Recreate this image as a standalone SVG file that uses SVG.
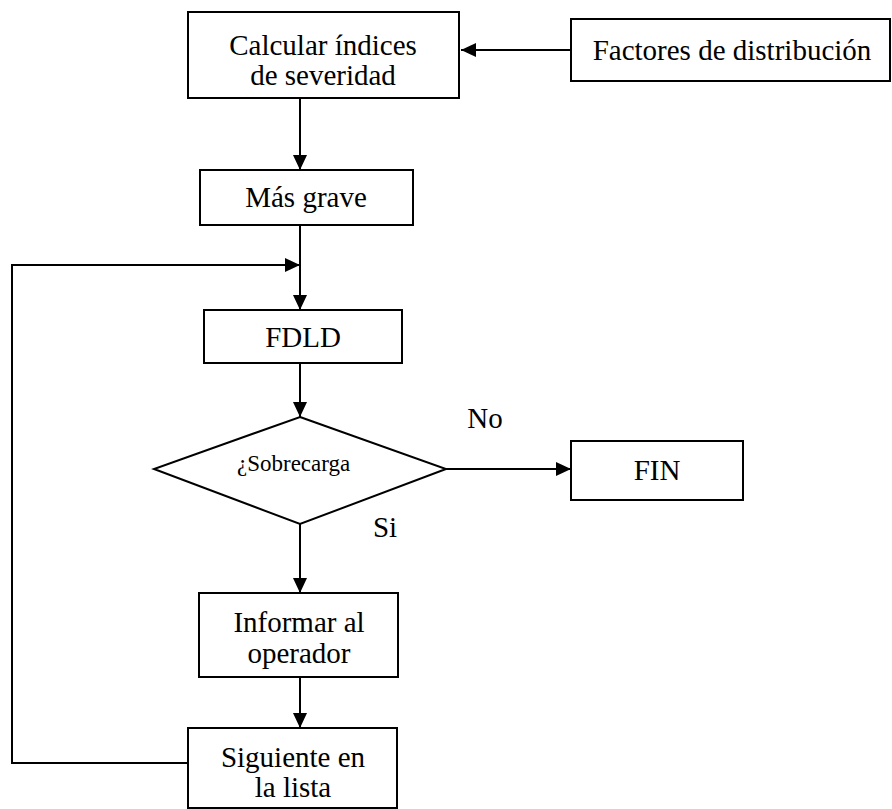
<svg xmlns="http://www.w3.org/2000/svg" width="892" height="809" viewBox="0 0 892 809">
<defs>
<style>
.box{fill:#fff;stroke:#000;stroke-width:2}
.ln{fill:none;stroke:#000;stroke-width:2}
.t{font-family:"Liberation Serif","Times New Roman",serif;font-size:29px;fill:#000;text-anchor:middle}
.s{font-family:"Liberation Serif","Times New Roman",serif;font-size:23px;fill:#000}
</style>
<marker id="ah" markerUnits="userSpaceOnUse" markerWidth="16" markerHeight="14" refX="15" refY="7" orient="auto">
<path d="M0,0 L15,7 L0,14 z" fill="#000"/>
</marker>
</defs>
<rect width="892" height="809" fill="#fff"/>
<g id="connectors">
<path class="ln" d="M571,50 L461,50" marker-end="url(#ah)"/>
<path class="ln" d="M300,98 L300,170" marker-end="url(#ah)"/>
<path class="ln" d="M300,225 L300,310" marker-end="url(#ah)"/>
<path class="ln" d="M300,363 L300,417" marker-end="url(#ah)"/>
<path class="ln" d="M446,469 L571,469" marker-end="url(#ah)"/>
<path class="ln" d="M300,524 L300,593" marker-end="url(#ah)"/>
<path class="ln" d="M300,677 L300,728" marker-end="url(#ah)"/>
<path class="ln" d="M188,763 L12,763 L12,265 L300,265" marker-end="url(#ah)"/>
</g>
<g id="calcular">
<rect class="box" x="188" y="12" width="271" height="86"/>
<text class="t" x="323" y="55">Calcular índices</text>
<text class="t" x="323" y="85">de severidad</text>
</g>
<g id="factores">
<rect class="box" x="571" y="19" width="319" height="62"/>
<text class="t" x="732" y="60">Factores de distribución</text>
</g>
<g id="masgrave">
<rect class="box" x="200" y="170" width="213" height="55"/>
<text class="t" x="306" y="207">Más grave</text>
</g>
<g id="fdld">
<rect class="box" x="204" y="310" width="198" height="53"/>
<text class="t" x="303" y="347">FDLD</text>
</g>
<g id="sobrecarga">
<polygon class="box" points="300,417 446,469 300,524 154,469"/>
<text class="s" x="237" y="471">¿Sobrecarga</text>
</g>
<g id="labels">
<text class="t" x="485" y="428">No</text>
<text class="t" x="385" y="537">Si</text>
</g>
<g id="fin">
<rect class="box" x="571" y="441" width="172" height="59"/>
<text class="t" x="657" y="480">FIN</text>
</g>
<g id="informar">
<rect class="box" x="199" y="593" width="199" height="84"/>
<text class="t" x="299" y="632">Informar al</text>
<text class="t" x="299" y="663">operador</text>
</g>
<g id="siguiente">
<rect class="box" x="188" y="728" width="209" height="80"/>
<text class="t" x="293" y="767">Siguiente en</text>
<text class="t" x="293" y="797">la lista</text>
</g>
</svg>
